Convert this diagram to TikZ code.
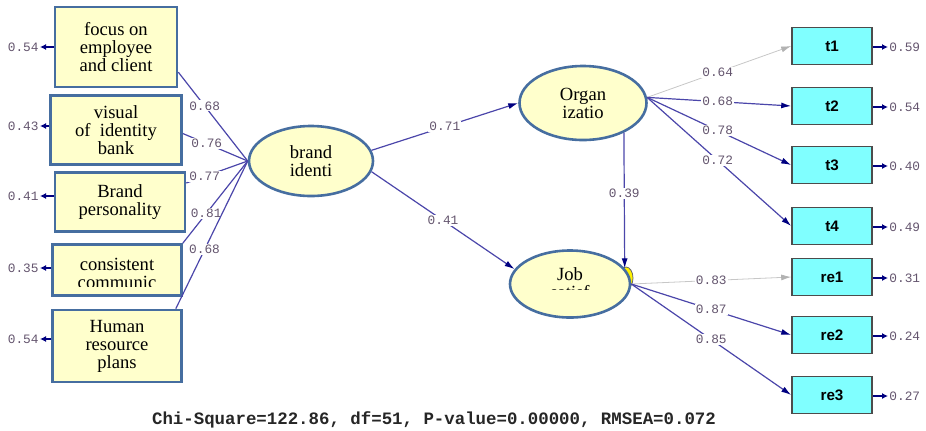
\documentclass[tikz,border=0pt]{standalone}
\usepackage{fontspec}
\setmainfont{Liberation Serif}
\setsansfont{Liberation Sans}
\setmonofont{Liberation Mono}
\usetikzlibrary{shapes.geometric,arrows.meta}
\definecolor{boxfill}{RGB}{255,255,204}
\definecolor{boxline}{RGB}{70,110,160}
\definecolor{pathline}{RGB}{75,70,170}
\definecolor{tipcol}{RGB}{0,0,128}
\definecolor{numcol}{RGB}{100,85,110}
\definecolor{obsfill}{RGB}{128,255,255}
\begin{document}
\begin{tikzpicture}[x=0.5pt,y=-0.5pt,font=\rmfamily\fontsize{9.3}{9}\selectfont]
      \tikzstyle{factor box}=[draw=boxline,line width=1.3pt,fill=boxfill,inner sep=0,align=center]
      \tikzstyle{latent}=[ellipse,draw=boxline,line width=1.3pt,fill=boxfill,inner sep=0,align=center]
      \tikzstyle{item box}=[draw=black!70,line width=0.8pt,fill=obsfill,minimum width=40pt,minimum height=18.5pt,font=\sffamily\bfseries\fontsize{7.6}{8}\selectfont]
      \tikzstyle{coef}=[fill=white,inner sep=0.6pt,text=numcol,font=\ttfamily\fontsize{6.4}{7}\selectfont]
      \tikzstyle{err}=[inner sep=0.5pt,text=numcol,font=\ttfamily\fontsize{6.4}{7}\selectfont]
      \tikzstyle{load line}=[draw=pathline,line width=0.6pt]
      \tikzstyle{tip}=[-{Latex[length=5pt,width=3pt,color=tipcol]}]
      \tikzstyle{pale tip}=[draw=black!22,-{Latex[length=5pt,width=3pt,color=black!30]}]
      \tikzstyle{err arrow}=[draw=tipcol,line width=1pt,-{Latex[length=3pt,width=3pt]}]

      \useasboundingbox (0,0) rectangle (926,430);

      % indicators of brand identity
      \node(f1)[factor box,minimum width=61pt,minimum height=40pt] at (116,47) {focus on\\employee\\and client};
      \node(f2)[factor box,minimum width=65.5pt,minimum height=34.5pt] at (116,130) {visual\\of\ \ identity\\bank};
      \node(f3)[factor box,minimum width=65pt,minimum height=29.5pt] at (120,202) {Brand\\personality};
      \node(f4)[factor box,minimum width=64.5pt,minimum height=25.5pt] at (117,270) {};
      \begin{scope}
        \clip (f4.north west) rectangle ([yshift=5pt]f4.south east);
        \node[align=center,inner sep=0] at ([yshift=-1.5pt]f4.center) {consistent\\communic};
      \end{scope}
      \node(f5)[factor box,minimum width=64.5pt,minimum height=36pt] at (117,346) {Human\\resource\\plans};

      % latent variables
      \node(brand)[latent,minimum width=62pt,minimum height=35pt] at (311,161) {brand\\identi};
      \node(org)[latent,minimum width=63.5pt,minimum height=37pt] at (583,103) {Organ\\izatio};
      \draw[fill=yellow,draw=black!60,line width=0.4pt] (626,278) ellipse (3.5pt and 5.5pt);
      \node(job)[latent,minimum width=60pt,minimum height=33.5pt] at (570,284) {};
      \begin{scope}
        \clip (job.north west) rectangle ([yshift=9.5pt]job.south east);
        \node[align=center,inner sep=0] at ([yshift=0.5pt]job.center) {Job\\satisf};
      \end{scope}

      % items
      \node(t1)[item box] at (832,46) {t1};
      \node(t2)[item box] at (832,106) {t2};
      \node(t3)[item box] at (832,165) {t3};
      \node(t4)[item box] at (832,226) {t4};
      \node(re1)[item box] at (832,277) {re1};
      \node(re2)[item box] at (832,335) {re2};
      \node(re3)[item box] at (832,395) {re3};

      % error variances
      \node(ef1)[err,anchor=east] at (40,47) {0.54};
      \node(ef2)[err,anchor=east] at (40,126) {0.43};
      \node(ef3)[err,anchor=east] at (40,196) {0.41};
      \node(ef4)[err,anchor=east] at (40,268) {0.35};
      \node(ef5)[err,anchor=east] at (40,339) {0.54};
      \foreach \i in {1,...,5} \draw[err arrow] (f\i.west |- ef\i.east) -- (ef\i.east);
      \node(et1)[err,anchor=west] at (888,47) {0.59};
      \node(et2)[err,anchor=west] at (888,107) {0.54};
      \node(et3)[err,anchor=west] at (888,166) {0.40};
      \node(et4)[err,anchor=west] at (888,227) {0.49};
      \node(ere1)[err,anchor=west] at (888,278) {0.31};
      \node(ere2)[err,anchor=west] at (888,336) {0.24};
      \node(ere3)[err,anchor=west] at (888,396) {0.27};
      \foreach \i in {t1,t2,t3,t4,re1,re2,re3} \draw[err arrow] (\i.east |- e\i.west) -- (e\i.west);

      % loadings of brand identity
      \draw[load line] (f1.-22) -- (brand.west) node[coef,pos=0.38]{0.68};
      \draw[load line] (f2.-3) -- (brand.west) node[coef,pos=0.37]{0.76};
      \draw[load line] (f3.16) -- (brand.west) node[coef,pos=0.3]{0.77};
      \draw[load line] (f4.north east) -- (brand.west) node[coef,pos=0.36]{0.81};
      \draw[load line] ([xshift=-3.5pt]f5.north east) -- (brand.west) node[coef,pos=0.4]{0.68};

      % structural paths
      \draw[load line,tip] (brand.10) -- (org.west) node[coef,pos=0.5]{0.71};
      \draw[load line,tip] (brand.-10) -- (job.165) node[coef,pos=0.5]{0.41};
      \draw[load line,tip] (org.-36) -- (job.16) node[coef,pos=0.45]{0.39};

      % loadings of the items
      \draw[pale tip] (org.5) -- (t1.west) node[coef,pos=0.49]{0.64};
      \draw[load line,tip] (org.5) -- (t2.west) node[coef,pos=0.49]{0.68};
      \draw[load line,tip] (org.5) -- (t3.west) node[coef,pos=0.49]{0.78};
      \draw[load line,tip] (org.5) -- (t4.west) node[coef,pos=0.49]{0.72};
      \draw[pale tip] (job.east) -- (re1.west) node[coef,pos=0.5]{0.83};
      \draw[load line,tip] (job.east) -- (re2.west) node[coef,pos=0.5]{0.87};
      \draw[load line,tip] (job.east) -- (re3.west) node[coef,pos=0.5]{0.85};

      \node(fit)[font=\ttfamily\bfseries\fontsize{8.7}{9}\selectfont,text=black!85] at (434,420) {Chi-Square=122.86, df=51, P-value=0.00000, RMSEA=0.072};
\end{tikzpicture}
\end{document}
